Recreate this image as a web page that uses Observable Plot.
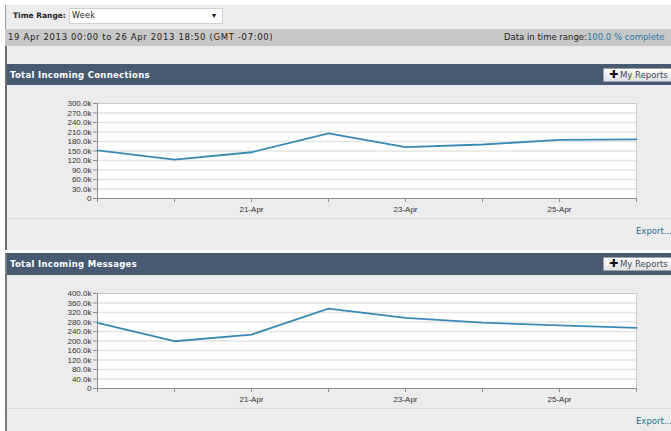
<!DOCTYPE html>
<html>
<head>
<meta charset="utf-8">
<script src="https://cdn.jsdelivr.net/npm/d3@7"></script>
<script src="https://cdn.jsdelivr.net/npm/@observablehq/plot@0.6"></script>
<style>
  html, body { margin: 0; padding: 0; background: #fff; }
  body { width: 671px; height: 431px; overflow: hidden; position: relative; font-family: "DejaVu Sans", Verdana, sans-serif; color: #222; }
  .abs { position: absolute; }
  .bar-tr { left: 5px; top: 5px; width: 666px; height: 24px; background: #ececec; border-left: 1px solid #9a9a9a; box-sizing: border-box; }
  .tr-label { left: 7px; top: 6px; font-size: 7.5px; font-weight: bold; color: #222; white-space: nowrap; }
  .select { left: 63px; top: 3px; width: 154px; height: 16px; background: #fff; border: 1px solid #d0d0d0; box-sizing: border-box; }
  .select span { position: absolute; left: 2px; top: 2px; font-size: 8px; color: #222; letter-spacing: 0.3px; }
  .select i { position: absolute; left: 142px; top: 2px; font-size: 8px; font-style: normal; color: #111; }
  .bar-date { left: 5px; top: 29px; width: 666px; height: 17px; background: #c8c8c8; }
  .date-l { left: 3px; top: 3px; font-size: 8.5px; letter-spacing: 0.65px; color: #222; white-space: nowrap; }
  .date-r { left: 499px; top: 3px; font-size: 8.5px; color: #222; white-space: nowrap; }
  .date-r b { font-weight: normal; color: #2a79a6; }
  .panel { left: 5px; width: 666px; background: #ececec; border-left: 2px solid #6e6e6e; box-sizing: border-box; }
  .hdr { left: 0; width: 664px; background: #475a71; }
  .hdr .t { position: absolute; left: 3px; top: 6px; font-size: 8.5px; letter-spacing: 0.3px; font-weight: bold; color: #fff; white-space: nowrap; }
  .btn { position: absolute; left: 596px; width: 80px; height: 14px; background: linear-gradient(#ffffff, #e2e2e2); border: 1px solid #9aa3ad; box-sizing: border-box; border-radius: 1px; }
  .btn .p { position: absolute; left: 5px; top: -1px; font-size: 11px; font-weight: bold; color: #111; }
  .btn .m { position: absolute; left: 16px; top: 1px; font-size: 8.5px; color: #3a4a5a; white-space: nowrap; }
  .sep { left: 0; width: 664px; height: 1px; background: #d8d8d8; }
  .export { left: 629px; font-size: 8.5px; color: #1f6a8c; white-space: nowrap; }
  .chart { left: -7px; }
</style>
</head>
<body>
<div class="abs bar-tr">
  <div class="abs tr-label">Time Range:</div>
  <div class="abs select"><span>Week</span><i>▾</i></div>
</div>
<div class="abs bar-date">
  <div class="abs date-l">19 Apr 2013 00:00 to 26 Apr 2013 18:50 (GMT -07:00)</div>
  <div class="abs date-r">Data in time range:<b>100.0 % complete</b></div>
</div>

<div class="abs panel" style="top:46px;height:204px;">
  <div class="abs hdr" style="top:18px;height:21px;">
    <div class="t">Total Incoming Connections</div>
    <div class="btn" style="top:4px;"><span class="p">✚</span><span class="m">My Reports</span></div>
  </div>
  <div class="abs chart" id="chart1" style="top:39px;"></div>
  <div class="abs sep" style="top:172px;"></div>
  <div class="abs export" style="top:180px;">Export...</div>
</div>

<div class="abs panel" style="top:253px;height:178px;border-left-color:#7a7a7a;">
  <div class="abs hdr" style="top:0px;height:22px;">
    <div class="t">Total Incoming Messages</div>
    <div class="btn" style="top:4px;"><span class="p">✚</span><span class="m">My Reports</span></div>
  </div>
  <div class="abs chart" id="chart2" style="top:22px;"></div>
  <div class="abs sep" style="top:155px;"></div>
  <div class="abs export" style="top:163px;">Export...</div>
</div>

<script>
// ---- data ----
const days = ["19-Apr", "20-Apr", "21-Apr", "22-Apr", "23-Apr", "24-Apr", "25-Apr", "26-Apr"];
const labeledDays = ["21-Apr", "23-Apr", "25-Apr"];
const connections = [152000, 123000, 146000, 206000, 162000, 170500, 185000, 187000];
const messages = [276000, 199000, 227000, 336500, 297000, 277000, 266000, 255000];
const connTicks = [0, 30000, 60000, 90000, 120000, 150000, 180000, 210000, 240000, 270000, 300000];
const msgTicks = [0, 40000, 80000, 120000, 160000, 200000, 240000, 280000, 320000, 360000, 400000];

function fmtK(d) { return d === 0 ? "0" : (d / 1000).toFixed(1) + "k"; }

function makeChart(values, ticks) {
  const data = days.map((d, i) => ({day: d, value: values[i]}));
  return Plot.plot({
    width: 671,
    height: 133,
    marginLeft: 97,
    marginRight: 35,
    marginTop: 18,
    marginBottom: 20,
    style: {background: "transparent", fontFamily: "'Liberation Sans', Arial, sans-serif", fontSize: "8px", color: "#333", overflow: "visible"},
    x: {type: "point", domain: days, padding: 0, label: null},
    y: {domain: [ticks[0], ticks[ticks.length - 1]], label: null},
    marks: [
      Plot.frame({fill: "white", stroke: "#c9c9c9"}),
      Plot.gridY(ticks.slice(1, -1), {stroke: "#e4e4e4", strokeOpacity: 1, strokeWidth: 1.5}),
      Plot.ruleY([ticks[0]], {stroke: "#8c8c8c"}),
      Plot.ruleX([days[0]], {stroke: "#8c8c8c"}),
      Plot.axisY(ticks, {tickFormat: fmtK, tickSize: 4, tickPadding: 2, stroke: "#8c8c8c", fill: "#333", label: null}),
      Plot.axisX(days, {tickFormat: d => labeledDays.includes(d) ? d : "", tickSize: 4, tickPadding: 4, stroke: "#8c8c8c", fill: "#333", label: null}),
      Plot.line(data, {x: "day", y: "value", stroke: "#3a89b5", strokeWidth: 1.8})
    ]
  });
}

document.getElementById("chart1").appendChild(makeChart(connections, connTicks));
document.getElementById("chart2").appendChild(makeChart(messages, msgTicks));
</script>
</body>
</html>
